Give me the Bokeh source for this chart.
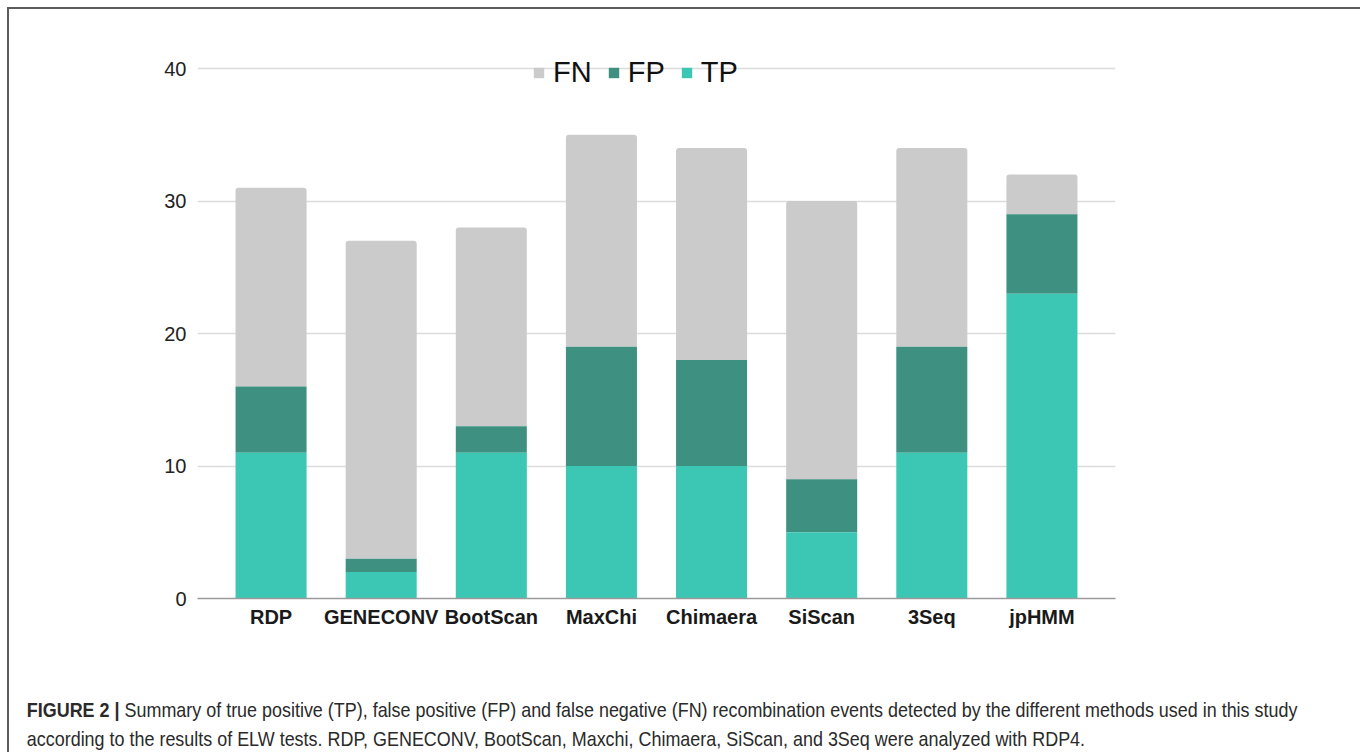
from bokeh.plotting import figure
from bokeh.models import (ColumnDataSource, FixedTicker, Legend, LegendItem, Div)
from bokeh.layouts import column
from bokeh.embed import file_html
from bokeh.resources import INLINE

methods = ["RDP", "GENECONV", "BootScan", "MaxChi", "Chimaera", "SiScan", "3Seq", "jpHMM"]
tp = [11, 2, 11, 10, 10, 5, 11, 23]
fp = [5, 1, 2, 9, 8, 4, 8, 6]
fn = [15, 24, 15, 16, 16, 21, 15, 3]
y_ticks = [0, 10, 20, 30, 40]

C_TP = "#3CC6B4"
C_FP = "#3E9180"
C_FN = "#CBCBCB"

xs = list(range(len(methods)))
tp_top = tp
fp_top = [a + b for a, b in zip(tp, fp)]
fn_top = [a + b + c for a, b, c in zip(tp, fp, fn)]
src = ColumnDataSource(dict(x=xs, tp0=[0] * len(xs), tp1=tp_top, fp1=fp_top, fn1=fn_top))

W, H = 1346, 650
p = figure(width=W, height=H, output_backend="svg", toolbar_location=None,
           x_range=(-0.668, 7.668), y_range=(0, 41.36),
           min_border_left=188, min_border_right=240, min_border_top=41, min_border_bottom=61)
p.outline_line_color = None
p.background_fill_color = "white"
p.border_fill_color = "white"

bw = 0.645
r_fn = p.vbar(x="x", bottom="fp1", top="fn1", width=bw, source=src, fill_color=C_FN,
              line_color=None, border_radius=(3, 3, 0, 0))
r_fp = p.vbar(x="x", bottom="tp1", top="fp1", width=bw, source=src, fill_color=C_FP, line_color=None)
r_tp = p.vbar(x="x", bottom="tp0", top="tp1", width=bw, source=src, fill_color=C_TP, line_color=None)

p.xgrid.grid_line_color = None
p.ygrid.grid_line_color = "#DCDCDC"
p.ygrid.grid_line_width = 1.3
p.yaxis.ticker = FixedTicker(ticks=y_ticks)
p.xaxis.ticker = FixedTicker(ticks=xs)
p.xaxis.major_label_overrides = {i: m for i, m in enumerate(methods)}

p.yaxis.axis_line_color = None
p.yaxis.major_tick_line_color = None
p.yaxis.minor_tick_line_color = None
p.yaxis.major_tick_out = 0
p.yaxis.minor_tick_out = 0
p.yaxis.major_label_text_font = "Liberation Sans"
p.yaxis.major_label_text_font_size = "20px"
p.yaxis.major_label_text_color = "#222222"
p.yaxis.major_label_standoff = 11

p.xaxis.axis_line_color = "#9A9A9A"
p.xaxis.axis_line_width = 1.5
p.xaxis.major_tick_line_color = None
p.xaxis.minor_tick_line_color = None
p.xaxis.major_tick_out = 0
p.xaxis.minor_tick_out = 0
p.xaxis.major_label_text_font = "Liberation Sans"
p.xaxis.major_label_text_font_style = "bold"
p.xaxis.major_label_text_font_size = "20px"
p.xaxis.major_label_text_color = "#1a1a1a"
p.xaxis.major_label_standoff = 7

legend = Legend(items=[LegendItem(label="FN", renderers=[r_fn]),
                       LegendItem(label="FP", renderers=[r_fp]),
                       LegendItem(label="TP", renderers=[r_tp])],
                orientation="horizontal", location=(335, 509),
                label_text_font="Liberation Sans", label_text_font_size="29px",
                label_text_color="#111111", glyph_width=13, glyph_height=13,
                label_standoff=8, spacing=15, padding=0, margin=0,
                background_fill_alpha=0, border_line_color=None)
p.add_layout(legend, "center")

cap_bold = "FIGURE 2 |"
cap_line1 = "Summary of true positive (TP), false positive (FP) and false negative (FN) recombination events detected by the different methods used in this study"
cap_line2 = "according to the results of ELW tests. RDP, GENECONV, BootScan, Maxchi, Chimaera, SiScan, and 3Seq were analyzed with RDP4."

caption = Div(
    width=W, height=743 - H,
    text=(f'<div style="transform:scaleX(0.854);transform-origin:0 0;white-space:nowrap;'
          f'font-family:\'Liberation Sans\',Arial,sans-serif;font-size:21px;line-height:29px;'
          f'color:#2a2a2a;padding-left:15px;padding-top:31px;">'
          f'<b>{cap_bold}</b> {cap_line1}<br>{cap_line2}</div>'),
)

layout = column(p, caption, spacing=0)
layout.styles = {"margin-left": "7px", "margin-top": "7px",
                 "border-left": "2px solid #5c5c5c", "border-top": "2px solid #5c5c5c",
                 "border-right": "2px solid #5c5c5c", "background-color": "white"}

open("out.html", "w").write(file_html(layout, INLINE))
